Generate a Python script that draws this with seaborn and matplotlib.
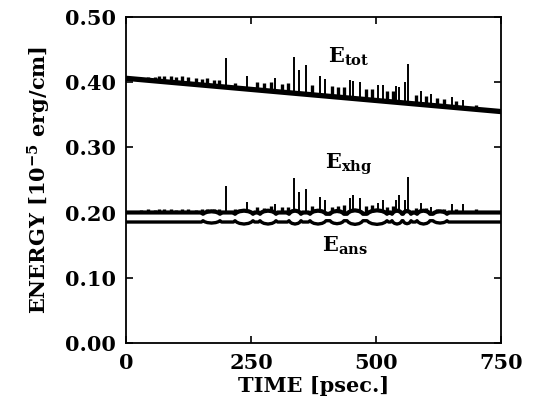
import numpy as np
import pandas as pd
import seaborn as sns
import matplotlib.pyplot as plt

# smooth trend of the total energy (psec, 1e-5 erg/cm)
tot_trend_time = [0, 750]
tot_trend_val = [0.406, 0.355]

# sharp spikes, shared by E_tot and E_xhg
spike_time = [200, 242, 298, 336, 346, 360, 388, 398, 448, 454, 468, 504, 514, 540, 546, 558, 564, 590, 610, 651, 674]
tot_peak = [0.437, 0.410, 0.406, 0.439, 0.418, 0.426, 0.410, 0.405, 0.403, 0.402, 0.400, 0.395, 0.396, 0.394, 0.393, 0.400, 0.428, 0.386, 0.382, 0.378, 0.373]
xhg_peak = [0.241, 0.217, 0.213, 0.253, 0.232, 0.236, 0.224, 0.219, 0.222, 0.227, 0.222, 0.214, 0.219, 0.219, 0.227, 0.220, 0.255, 0.214, 0.209, 0.213, 0.213]

# small ripples on top of the lines
bump_time = [30, 44, 58, 66, 76, 90, 100, 112, 124, 140, 152, 162, 176, 186, 218, 262, 276, 290, 312, 324, 372, 412, 424, 436, 480, 492, 522, 534, 580, 600, 622, 636, 660, 700]
tot_bump = [0.407, 0.408, 0.408, 0.409, 0.410, 0.409, 0.408, 0.409, 0.408, 0.406, 0.405, 0.406, 0.404, 0.404, 0.399, 0.400, 0.399, 0.400, 0.398, 0.399, 0.395, 0.394, 0.393, 0.393, 0.390, 0.389, 0.387, 0.387, 0.381, 0.379, 0.376, 0.375, 0.371, 0.365]
xhg_bump = [0.204, 0.205, 0.204, 0.205, 0.206, 0.205, 0.204, 0.205, 0.205, 0.204, 0.205, 0.205, 0.206, 0.206, 0.205, 0.209, 0.207, 0.210, 0.208, 0.209, 0.210, 0.209, 0.210, 0.211, 0.210, 0.211, 0.209, 0.210, 0.207, 0.207, 0.206, 0.206, 0.205, 0.205]

# exchange / anisotropy energies: flat levels with beating lobes
xhg_level = 0.2002
ans_level = 0.1856
xhg_node = 0.1982
ans_node = 0.1876
lobe_start = [154, 218, 268, 326, 368, 408, 442, 482, 532, 554, 582, 614]
lobe_end = [188, 254, 300, 350, 400, 436, 474, 522, 552, 570, 608, 642]
xhg_lobe = [0.2020, 0.2030, 0.2030, 0.2030, 0.2030, 0.2025, 0.2035, 0.2035, 0.2030, 0.2025, 0.2030, 0.2020]
ans_lobe = [0.1840, 0.1825, 0.1825, 0.1825, 0.1825, 0.1830, 0.1820, 0.1820, 0.1825, 0.1830, 0.1825, 0.1840]


def lobe_series(level, node, tops):
    # shape profile from a pinched node to each read lobe extreme
    frac = [0.0, 0.1, 0.25, 0.5, 0.75, 0.9, 1.0]
    prof = [0.0, 0.45, 0.8, 1.0, 0.8, 0.45, 0.0]
    t, v = [0], [level]
    prev_end = None
    for s, e, top in zip(lobe_start, lobe_end, tops):
        if prev_end is None or s - prev_end > 8:
            if prev_end is not None:
                t.append(prev_end + 3)
                v.append(level)
            t.append(s - 3)
            v.append(level)
        for f, p in zip(frac, prof):
            t.append(s + f * (e - s))
            v.append(node + p * (top - node))
        prev_end = e
    t.append(prev_end + 3)
    v.append(level)
    t.append(750)
    v.append(level)
    return pd.DataFrame({'Time': t, 'Energy': v})


sns.set_theme(style='ticks')
plt.rcParams['font.family'] = ['DejaVu Serif']
plt.rcParams['font.weight'] = 'bold'
plt.rcParams['mathtext.fontset'] = 'dejavuserif'
plt.rcParams['text.color'] = 'black'
plt.rcParams['axes.labelcolor'] = 'black'

fig = plt.figure(figsize=(5.35, 4.05), dpi=100)
ax = fig.add_axes([0.2355, 0.153, 0.701, 0.805])

tot = pd.DataFrame({'Time': tot_trend_time, 'Energy': tot_trend_val})
sns.lineplot(data=tot, x='Time', y='Energy', color='black', lw=3.8, ax=ax)
sns.lineplot(data=lobe_series(xhg_level, xhg_node, xhg_lobe), x='Time', y='Energy',
             color='black', lw=3.0, ax=ax, sort=False)
sns.lineplot(data=lobe_series(ans_level, ans_node, ans_lobe), x='Time', y='Energy',
             color='black', lw=2.4, ax=ax, sort=False)

tot_spike_base = np.interp(spike_time, tot_trend_time, tot_trend_val)
tot_bump_base = np.interp(bump_time, tot_trend_time, tot_trend_val)
ax.vlines(spike_time, tot_spike_base, tot_peak, color='black', lw=1.4)
ax.vlines(spike_time, xhg_level, xhg_peak, color='black', lw=1.4)
ax.vlines(bump_time, tot_bump_base, tot_bump, color='black', lw=2.4)
ax.vlines(bump_time, xhg_level, xhg_bump, color='black', lw=2.4)

ax.text(404, 0.4295, r'$\mathbf{E}_{\mathbf{tot}}$', fontsize=15, color='black')
ax.text(398, 0.268, r'$\mathbf{E}_{\mathbf{xhg}}$', fontsize=15, color='black')
ax.text(392, 0.1396, r'$\mathbf{E}_{\mathbf{ans}}$', fontsize=15, color='black')

ax.set_xlim(0, 750)
ax.set_ylim(0, 0.5)
ax.set_xticks([0, 250, 500, 750])
ax.set_yticks([0.0, 0.1, 0.2, 0.3, 0.4, 0.5])
ax.set_yticklabels(['0.00', '0.10', '0.20', '0.30', '0.40', '0.50'])
ax.tick_params(direction='in', length=5, width=1.2, top=True, right=True,
               labelsize=15, pad=7, colors='black')
for lab in ax.get_xticklabels() + ax.get_yticklabels():
    lab.set_fontweight('bold')
for sp in ax.spines.values():
    sp.set_linewidth(1.3)
    sp.set_color('black')

ax.set_xlabel('TIME [psec.]', fontsize=15, fontweight='bold', labelpad=2)
ax.set_ylabel(r'ENERGY [10$^{\mathbf{-5}}$ erg/cm]', fontsize=15, fontweight='bold', labelpad=9)

fig.savefig('out.png', dpi=100)
